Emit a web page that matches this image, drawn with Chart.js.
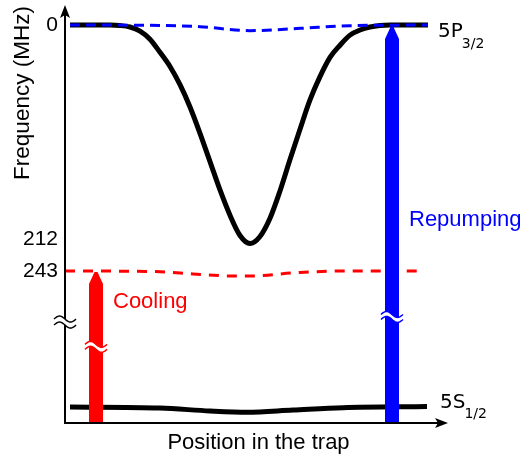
<!DOCTYPE html>
<html>
<head>
<meta charset="utf-8">
<script src="https://cdn.jsdelivr.net/npm/chart.js@4"></script>
<style>
  html, body { margin: 0; padding: 0; background: #fff; }
</style>
</head>
<body>
<canvas id="levels" width="526" height="459"></canvas>
<script>
// position across the trap (arbitrary units, trap centre = 0)
// frequency shift in MHz, measured downward from the free 5P3/2 level
const excitedX = [-1.8, -1.4, -1.3, -1.2, -1.1, -1.0, -0.9, -0.8, -0.7, -0.6, -0.5, -0.4, -0.3, -0.2, -0.1, 0,
  0.1, 0.2, 0.3, 0.4, 0.5, 0.6, 0.7, 0.8, 0.9, 1.0, 1.1, 1.2, 1.3, 1.4, 1.78];
const excitedShift = [0, 0, 0.5, 2, 6, 14, 27, 41, 59, 81, 107, 135, 163, 188, 208, 216,
  209, 191, 164, 133, 103, 74, 51, 32, 20, 10, 5, 2, 0.5, 0, 0];

const repumpX = [-1.8, -1.0, -0.5, 0, 0.5, 1.0, 1.78];
const repumpShift = [0, 0.3, 1.7, 5.6, 3.3, 0.7, 0];

const coolX = [-1.85, -0.9, -0.57, -0.17, 0, 0.43, 0.93, 1.72];
const coolShift = [243, 243.8, 246, 248, 248, 245, 243, 243];

// ground state sits below the axis break, so these are axis units, not MHz
const groundX = [-1.8, -0.9, -0.4, -0.03, 0.43, 0.93, 1.77];
const groundLevel = [377.5, 378.5, 381.4, 382.6, 380.4, 378.1, 377];

const yTicks = [0, 212, 243];
const axisBreak = 293.5;

// laser arrows: where they sit, where they start and end, where they are broken
const arrowNames = ["Cooling", "Repumping"];
const arrowX = [-1.54, 1.42];
const arrowFrom = [393, 393];
const arrowTo = [244, 2];
const arrowBreak = [318, 288.5];
const arrowLabelY = [274, 193];
const arrowColors = ["#ff0000", "#0000ff"];

const pts = (xs, ys) => xs.map((x, i) => ({ x: x, y: ys[i] }));
const SANS = '"Liberation Sans", Arial, sans-serif';

function drawArrow(ctx, cx, yBottom, yTip, color) {
  const hw = 7, head = 12;
  ctx.fillStyle = color;
  ctx.beginPath();
  ctx.moveTo(cx - hw, yBottom);
  ctx.lineTo(cx - hw, yTip + head);
  ctx.lineTo(cx - 1.5, yTip);
  ctx.lineTo(cx + 1.5, yTip);
  ctx.lineTo(cx + hw, yTip + head);
  ctx.lineTo(cx + hw, yBottom);
  ctx.closePath();
  ctx.fill();
}

function wavePath(ctx, cx, cy, halfW, amp, reverse) {
  const n = 24;
  for (let k = 0; k <= n; k++) {
    const t = reverse ? 1 - (2 * k) / n : -1 + (2 * k) / n;
    const px = cx + t * halfW;
    const py = cy + amp * Math.sin(Math.PI * t);
    if (k === 0 && !reverse) ctx.moveTo(px, py);
    else ctx.lineTo(px, py);
  }
}

function drawBreak(ctx, cx, cy, halfW, gap, color) {
  const amp = 3;
  ctx.save();
  ctx.fillStyle = "#fff";
  ctx.beginPath();
  wavePath(ctx, cx, cy - gap, halfW, amp, false);
  wavePath(ctx, cx, cy + gap, halfW, amp, true);
  ctx.closePath();
  ctx.fill();
  ctx.strokeStyle = color;
  ctx.lineWidth = 1.5;
  [-gap, gap].forEach((g) => {
    ctx.beginPath();
    wavePath(ctx, cx, cy + g, halfW, amp, false);
    ctx.stroke();
  });
  ctx.restore();
}

const overlay = {
  id: "overlay",
  afterDatasetsDraw(chart) {
    const { ctx, chartArea: a, scales } = chart;
    const x = scales.x, y = scales.y;
    ctx.save();

    // laser arrows
    arrowX.forEach((v, i) => {
      const cx = x.getPixelForValue(v);
      drawArrow(ctx, cx, y.getPixelForValue(arrowFrom[i]), y.getPixelForValue(arrowTo[i]), arrowColors[i]);
      drawBreak(ctx, cx, y.getPixelForValue(arrowBreak[i]), 11, 2.5, arrowColors[i]);
      ctx.fillStyle = arrowColors[i];
      ctx.font = "22px " + SANS;
      ctx.textAlign = "left";
      ctx.textBaseline = "middle";
      ctx.fillText(arrowNames[i], cx + 17, y.getPixelForValue(arrowLabelY[i]));
    });

    // axes with arrow heads
    ctx.strokeStyle = "#000";
    ctx.fillStyle = "#000";
    ctx.lineWidth = 2;
    ctx.beginPath();
    ctx.moveTo(a.left, a.top + 8);
    ctx.lineTo(a.left, a.bottom);
    ctx.lineTo(a.right - 8, a.bottom);
    ctx.stroke();

    ctx.beginPath();
    ctx.moveTo(a.left, a.top);
    ctx.lineTo(a.left + 5, a.top + 13);
    ctx.lineTo(a.left, a.top + 10);
    ctx.lineTo(a.left - 5, a.top + 13);
    ctx.closePath();
    ctx.fill();

    ctx.beginPath();
    ctx.moveTo(a.right, a.bottom);
    ctx.lineTo(a.right - 13, a.bottom - 5);
    ctx.lineTo(a.right - 10, a.bottom);
    ctx.lineTo(a.right - 13, a.bottom + 5);
    ctx.closePath();
    ctx.fill();

    drawBreak(ctx, a.left, y.getPixelForValue(axisBreak), 11, 3, "#000");

    // tick labels
    ctx.fillStyle = "#000";
    ctx.font = "21px " + SANS;
    ctx.textAlign = "right";
    ctx.textBaseline = "middle";
    yTicks.forEach((t) => ctx.fillText(String(t), a.left - 7, y.getPixelForValue(t)));

    // axis titles
    ctx.font = "22px " + SANS;
    ctx.textAlign = "center";
    ctx.fillText("Position in the trap", (a.left + a.right) / 2 + 2, a.bottom + 20);
    ctx.save();
    ctx.translate(23, 93);
    ctx.rotate(-Math.PI / 2);
    ctx.font = "22.5px " + SANS;
    ctx.fillText("Frequency (MHz)", 0, 0);
    ctx.restore();

    // level names
    const lx = x.getPixelForValue(excitedX[excitedX.length - 1]) + 10;
    const pY = y.getPixelForValue(excitedShift[excitedShift.length - 1]);
    const sY = y.getPixelForValue(groundLevel[groundLevel.length - 1]);
    ctx.textAlign = "left";
    ctx.textBaseline = "alphabetic";
    ctx.font = '20px "DejaVu Sans", sans-serif';
    ctx.fillText("5P", lx, pY + 12);
    ctx.fillText("5S", lx + 2, sY + 1);
    const pw = ctx.measureText("5P").width;
    const sw = ctx.measureText("5S").width;
    ctx.font = '14px "DejaVu Sans", sans-serif';
    ctx.fillText("3/2", lx + pw - 1, pY + 23);
    ctx.fillText("1/2", lx + 2 + sw - 1, sY + 11);

    ctx.restore();
  }
};

const line = (data, color, width, dash) => ({
  data: data,
  borderColor: color,
  borderWidth: width,
  borderDash: dash,
  borderJoinStyle: "round",
  pointRadius: 0,
  fill: false,
  cubicInterpolationMode: "monotone",
  clip: false,
});

new Chart(document.getElementById("levels"), {
  type: "line",
  data: {
    datasets: [
      line(pts(repumpX, repumpShift), "#0000ff", 3, [10, 6]),
      line(pts(coolX, coolShift), "#ff0000", 3, [10, 8]),
      line(pts(excitedX, excitedShift), "#000", 5, []),
      line(pts(groundX, groundLevel), "#000", 5, []),
    ],
  },
  options: {
    responsive: false,
    animation: false,
    devicePixelRatio: 1,
    layout: { padding: { left: 65, right: 78, top: 5, bottom: 36 } },
    scales: {
      x: { type: "linear", min: -1.85, max: 1.98, display: false },
      y: { type: "linear", reverse: true, min: -19.76, max: 393.28, display: false },
    },
    plugins: { legend: { display: false }, tooltip: { enabled: false } },
  },
  plugins: [overlay],
});
</script>
</body>
</html>
